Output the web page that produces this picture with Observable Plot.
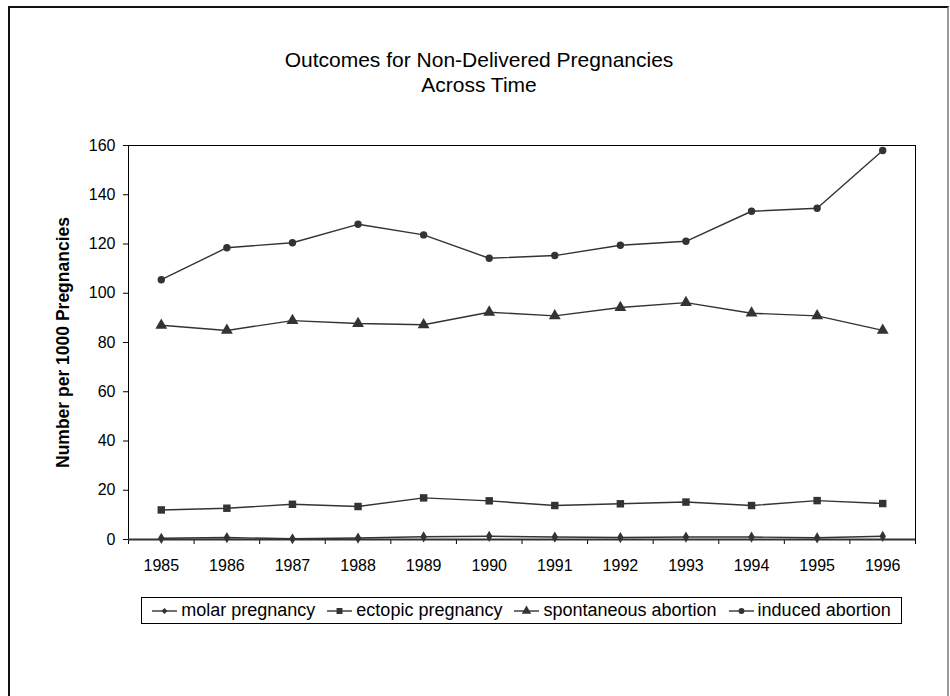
<!DOCTYPE html>
<html>
<head>
<meta charset="utf-8">
<script src="https://cdn.jsdelivr.net/npm/d3@7"></script>
<script src="https://cdn.jsdelivr.net/npm/@observablehq/plot@0.6"></script>
<style>
  html, body { margin: 0; padding: 0; background: #fff; }
  body { width: 950px; height: 696px; overflow: hidden; position: relative; font-family: "Liberation Sans", Arial, sans-serif; }
  #border { position: absolute; left: 8px; top: 6px; width: 941px; height: 720px; border-left: 2px solid #111; border-top: 2px solid #111; border-right: 2px solid #999; box-sizing: border-box; }
  #title { position: absolute; left: 9px; width: 940px; top: 47px; text-align: center; font-size: 21px; line-height: 25px; color: #000; }
  #chart { position: absolute; left: 0; top: 0; }
  #legend { position: absolute; left: 141px; top: 597px; width: 761px; height: 27px; border: 1px solid #000; box-sizing: border-box; display: flex; align-items: center; justify-content: center; font-size: 18px; color: #000; white-space: nowrap; }
  .item { display: flex; align-items: center; margin: 0 6px; }
  .item svg { margin-right: 4px; }
</style>
</head>
<body>
<div id="border"></div>
<div id="title">Outcomes for Non-Delivered Pregnancies<br>Across Time</div>
<div id="chart"></div>
<div id="legend"></div>
<script>
const years = [1985, 1986, 1987, 1988, 1989, 1990, 1991, 1992, 1993, 1994, 1995, 1996];
const seriesNames = ["molar pregnancy", "ectopic pregnancy", "spontaneous abortion", "induced abortion"];
const seriesSymbols = ["diamond", "square", "triangle", "circle"];
const molar = [0.5, 0.8, 0.3, 0.6, 1.1, 1.3, 1.0, 0.8, 1.0, 1.0, 0.7, 1.3];
const ectopic = [12.0, 12.7, 14.3, 13.4, 16.9, 15.7, 13.8, 14.5, 15.2, 13.8, 15.8, 14.6];
const spontaneous = [87.0, 84.9, 88.9, 87.7, 87.2, 92.3, 90.8, 94.2, 96.2, 91.9, 90.8, 84.9];
const induced = [105.5, 118.5, 120.5, 128.0, 123.7, 114.2, 115.3, 119.5, 121.1, 133.3, 134.5, 158.0];
const yTicks = [0, 20, 40, 60, 80, 100, 120, 140, 160];
const yLabel = "Number per 1000 Pregnancies";

const seriesValues = [molar, ectopic, spontaneous, induced];
const data = seriesNames.flatMap((name, i) =>
  years.map((yr, j) => ({series: name, symbol: seriesSymbols[i], year: yr, value: seriesValues[i][j]}))
);
const boundaries = [years[0] - 0.5, ...years.map(y => y + 0.5)];
const ink = "#333";
const symbolR = {diamond: 3.4, square: 4.2, triangle: 4.4, circle: 3.7};

const chart = Plot.plot({
  width: 950,
  height: 696,
  marginLeft: 128,
  marginRight: 35,
  marginTop: 145,
  marginBottom: 157,
  style: {fontFamily: "'Liberation Sans', Arial, sans-serif", fontSize: "16px", color: "#000", background: "transparent"},
  x: {type: "linear", domain: [boundaries[0], boundaries[boundaries.length - 1]]},
  y: {domain: [0, 160]},
  marks: [
    Plot.frame({stroke: "#000", strokeWidth: 1}),
    Plot.axisY({ticks: yTicks, tickSize: 5, tickPadding: 8, label: null, fontSize: 16, stroke: "#000"}),
    Plot.axisX({ticks: years, tickSize: 0, tickPadding: 20, tickFormat: d => String(d), label: null, fontSize: 16}),
    Plot.axisX({ticks: boundaries, tickSize: 5, tickFormat: () => "", label: null, stroke: "#000"}),
    Plot.ruleY([0], {stroke: "#333", strokeWidth: 2}),
    ...seriesNames.map(name =>
      Plot.line(data.filter(d => d.series === name), {x: "year", y: "value", stroke: ink, strokeWidth: 1.4})
    ),
    ...seriesSymbols.map(sym =>
      Plot.dot(data.filter(d => d.symbol === sym), {x: "year", y: "value", symbol: "symbol", fill: ink, stroke: "none", r: symbolR[sym]})
    ),
    Plot.text([yLabel], {frameAnchor: "left", textAnchor: "middle", text: d => d, rotate: -90, dx: -65, fontWeight: "bold", fontSize: 17.5})
  ]
});
document.getElementById("chart").appendChild(chart);

// legend
const legend = d3.select("#legend");
const symMap = {diamond: d3.symbolDiamond2, square: d3.symbolSquare, triangle: d3.symbolTriangle, circle: d3.symbolCircle};
seriesNames.forEach((name, i) => {
  const item = legend.append("div").attr("class", "item");
  const svg = item.append("svg").attr("width", 25).attr("height", 14);
  svg.append("line").attr("x1", 0).attr("x2", 25).attr("y1", 7).attr("y2", 7).attr("stroke", ink).attr("stroke-width", 1.4);
  const r = symbolR[seriesSymbols[i]] * 0.8;
  svg.append("path").attr("transform", "translate(12.5,7)").attr("d", d3.symbol(symMap[seriesSymbols[i]], Math.PI * r * r)()).attr("fill", ink);
  item.append("span").text(name);
});
</script>
</body>
</html>
